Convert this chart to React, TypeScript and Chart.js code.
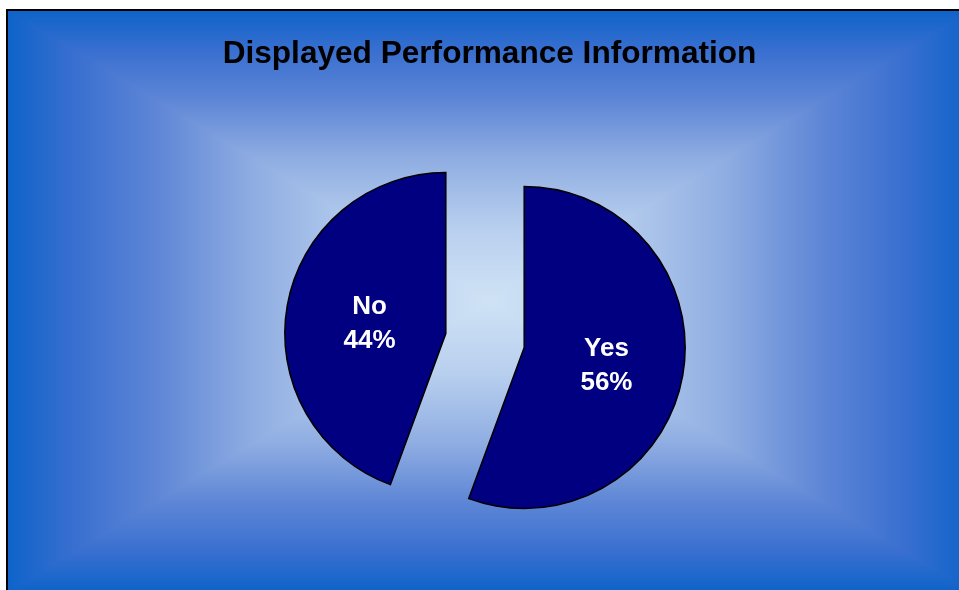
import React, { useEffect, useRef } from "react";
import { Chart, registerables } from "chart.js";

Chart.register(...registerables);

const categories: string[] = ["Yes", "No"];
const shares: number[] = [55.6, 44.4];
const titleText = "Displayed Performance Information";

const W = 959;
const H = 590;
const EXPLODE = 39.8;
const RADIUS = 161;
const LABEL_NUDGE_X = 3;
const LABEL_NUDGE_Y = 2;

// gradient stops: t = 0 at the centre of the frame, 1 at its edge
const bgStops: [number, number[]][] = [
  [0, [0xcf, 0xe2, 0xf5]],
  [0.25, [0xb8, 0xcf, 0xee]],
  [0.49, [0x8f, 0xad, 0xe2]],
  [0.69, [0x5e, 0x86, 0xd6]],
  [0.86, [0x39, 0x6f, 0xd0]],
  [1, [0x0d, 0x63, 0xc9]],
];

function bgColor(t: number): number[] {
  if (t <= 0) return bgStops[0][1];
  for (let i = 1; i < bgStops.length; i++) {
    const [t1, c1] = bgStops[i];
    const [t0, c0] = bgStops[i - 1];
    if (t <= t1) {
      const f = (t - t0) / (t1 - t0);
      return [0, 1, 2].map((k) => c0[k] + (c1[k] - c0[k]) * f);
    }
  }
  return bgStops[bgStops.length - 1][1];
}

const backgroundPlugin = {
  id: "rectGradientBg",
  beforeDraw(chart: any) {
    const ctx = chart.ctx as CanvasRenderingContext2D;
    const w = chart.width, h = chart.height;
    const x0 = 7, y0 = 10, x1 = 972, y1 = 592;
    const cx = (x0 + x1) / 2, cy = (y0 + y1) / 2;
    const hw = (x1 - x0) / 2, hh = (y1 - y0) / 2;
    const img = ctx.createImageData(w, h);
    const d = img.data;
    for (let y = 0; y < h; y++) {
      for (let x = 0; x < w; x++) {
        const idx = (y * w + x) * 4;
        let c: number[];
        if (x < x0 || y < y0) c = [255, 255, 255];
        else {
          const t = Math.max(Math.abs(x + 0.5 - cx) / hw, Math.abs(y + 0.5 - cy) / hh);
          c = bgColor(Math.min(1, t));
        }
        d[idx] = c[0];
        d[idx + 1] = c[1];
        d[idx + 2] = c[2];
        d[idx + 3] = 255;
      }
    }
    ctx.putImageData(img, 0, 0);
    ctx.save();
    ctx.strokeStyle = "#000000";
    ctx.lineWidth = 2;
    ctx.strokeRect(x0, y0, x1 - x0 + 20, y1 - y0 + 20);
    ctx.fillStyle = "#000000";
    ctx.font = "bold 31.6px 'Liberation Sans', Arial, sans-serif";
    ctx.textAlign = "center";
    ctx.textBaseline = "alphabetic";
    ctx.fillText(titleText, 489.5, 63);
    ctx.restore();
  },
};

// pull every slice out from the centre along its mid-angle (exploded pie)
const explodePlugin = {
  id: "explodeSlices",
  afterDatasetsUpdate(chart: any) {
    const meta = chart.getDatasetMeta(0);
    meta.data.forEach((arc: any) => {
      const h = (arc.startAngle + arc.endAngle) / 2;
      arc.x += Math.cos(h) * EXPLODE;
      arc.y += Math.sin(h) * EXPLODE;
    });
  },
};

const labelPlugin = {
  id: "sliceLabels",
  afterDatasetsDraw(chart: any) {
    const ctx = chart.ctx as CanvasRenderingContext2D;
    const meta = chart.getDatasetMeta(0);
    const data = chart.data.datasets[0].data as number[];
    const total = data.reduce((a, b) => a + b, 0);
    ctx.save();
    ctx.fillStyle = "#ffffff";
    ctx.font = "bold 26px 'Liberation Sans', Arial, sans-serif";
    ctx.textAlign = "center";
    ctx.textBaseline = "alphabetic";
    meta.data.forEach((arc: any, i: number) => {
      const h = (arc.startAngle + arc.endAngle) / 2;
      const dist = arc.outerRadius / 2;
      const px = arc.x + Math.cos(h) * dist + LABEL_NUDGE_X;
      const py = arc.y + Math.sin(h) * dist + LABEL_NUDGE_Y;
      const pct = Math.round((data[i] / total) * 100) + "%";
      ctx.fillText(String(chart.data.labels[i]), px, py - 7.8);
      ctx.fillText(pct, px, py + 26.5);
    });
    ctx.restore();
  },
};

export default function App() {
  const ref = useRef<HTMLCanvasElement | null>(null);
  useEffect(() => {
    if (!ref.current) return;
    const chart = new Chart(ref.current, {
      type: "pie",
      data: {
        labels: categories,
        datasets: [
          {
            data: shares,
            backgroundColor: "#000080",
            borderColor: "#000000",
            borderWidth: 1.5,
            borderJoinStyle: "miter",
            offset: 0,
            hoverOffset: 0,
          } as any,
        ],
      },
      options: {
        responsive: false,
        animation: false,
        devicePixelRatio: 1,
        radius: RADIUS,
        layout: { padding: { left: 11, right: 0, top: 91, bottom: 0 } },
        plugins: {
          legend: { display: false },
          tooltip: { enabled: false },
          title: { display: false },
        },
      } as any,
      plugins: [backgroundPlugin, explodePlugin, labelPlugin],
    });
    return () => chart.destroy();
  }, []);
  return (
    <div style={{ position: "fixed", left: 0, top: 0, width: W, height: H }}>
      <canvas ref={ref} width={W} height={H} style={{ display: "block" }} />
    </div>
  );
}
